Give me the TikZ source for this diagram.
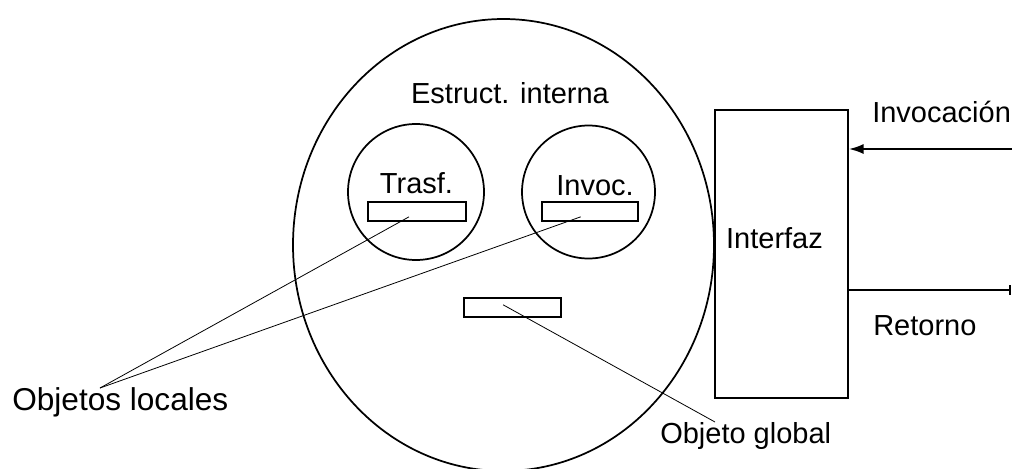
\documentclass[tikz,border=0pt]{standalone}
\usepackage{fontspec}
\setmainfont{Liberation Sans}
\usetikzlibrary{shapes.geometric,arrows.meta}
\begin{document}
\begin{tikzpicture}[x=0.75pt,y=-0.75pt,
  outline/.style={draw,line width=1.3pt,inner sep=0pt},
  slot/.style={draw,line width=1.3pt,rectangle,inner sep=0pt,minimum height=14.25pt},
  leader/.style={line width=0.6pt},
  flow/.style={line width=1.5pt},
  lbl/.style={inner sep=0pt,font=\fontsize{21.75}{26}\selectfont},
  biglbl/.style={inner sep=0pt,font=\fontsize{23.7}{28}\selectfont}]
\useasboundingbox (0,0) rectangle (1012,468);

% outer structure
\node[outline,ellipse,minimum width=315.75pt,minimum height=339pt] (body) at (503.5,245) {};
\node[lbl,anchor=base] (estr) at (510,103) {Estruct. interna};

% inner blocks
\node[outline,circle,minimum size=102pt] (ctr) at (416,192) {};
\node[outline,circle,minimum size=99.75pt] (cin) at (588.5,192) {};
\node[lbl,anchor=base] (ttr) at (416.5,193) {Trasf.};
\node[lbl,anchor=base] (tin) at (595,195) {Invoc.};
\node[slot,minimum width=73.5pt] (otr) at (417,211.5) {};
\node[slot,minimum width=72pt] (oin) at (590,211.5) {};
\node[slot,minimum width=72.75pt] (oglob) at (512.5,307.5) {};

% interface box
\node[outline,rectangle,minimum width=99.75pt,minimum height=216pt] (intf) at (781.5,254) {};
\node[lbl,anchor=base] (tintf) at (774.5,248) {Interfaz};

% calls in and out
\coordinate (inA) at (1012,149);
\coordinate (outR) at (1011,290);
\draw[flow,-{Latex[length=11pt,width=7.5pt]}] (inA) -- (intf.east |- inA);
\draw[flow,-{Bar[width=7.5pt]}] (intf.east |- outR) -- (outR);
\node[lbl,anchor=base west] (tinv) at (872,122) {Invocación};
\node[lbl,anchor=base west] (tret) at (873,335) {Retorno};

% labels with leaders
\node[biglbl,anchor=base west] (locs) at (12,410) {Objetos locales};
\node[lbl,anchor=base west] (glob) at (660,443) {Objeto global};
\coordinate (locsTip) at (100,388);
\coordinate (globTip) at (715,422);
\draw[leader] (locsTip) -- ([xshift=-6pt,yshift=-4pt]otr.center);
\draw[leader] (locsTip) -- ([xshift=-7pt,yshift=-4pt]oin.center);
\draw[leader] ([xshift=-7pt,yshift=2pt]oglob.center) -- (globTip);
\end{tikzpicture}
\end{document}
